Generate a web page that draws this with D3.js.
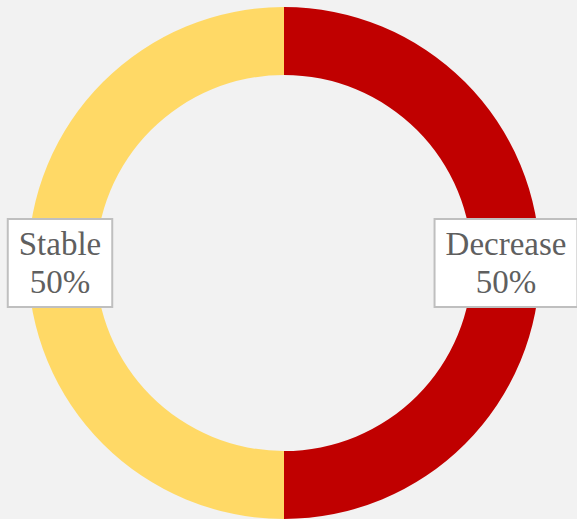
<!DOCTYPE html>
<html><head><meta charset="utf-8">
<script src="https://cdn.jsdelivr.net/npm/d3@7"></script>
<style>html,body{margin:0;padding:0;background:#F2F2F2;}svg{display:block;}</style>
</head><body>
<svg id="c" width="577" height="519"></svg>
<script>
const categories = ["Decrease", "Stable"];
const values = [50, 50];
const percentLabels = ["50%", "50%"];
const colors = ["#C00000", "#FFD966"];

const svg = d3.select("#c");
const cx = 284, cy = 263, rOuter = 256, rInner = 188;
const g = svg.append("g").attr("transform", `translate(${cx},${cy})`);
const pie = d3.pie().sort(null).value(d => d)(values);
const arc = d3.arc().innerRadius(rInner).outerRadius(rOuter);
const labelArc = d3.arc().innerRadius((rInner+rOuter)/2).outerRadius((rInner+rOuter)/2);

g.selectAll("path").data(pie).enter().append("path")
  .attr("d", arc).attr("fill", (d,i) => colors[i]);

const fs = 33;
pie.forEach((d,i) => {
  let [x,y] = labelArc.centroid(d);
  x += (x < 0 ? -2 : 0);
  const lg = g.append("g").attr("transform", `translate(${x},${y})`);
  const rect = lg.append("rect");
  const t = lg.append("text").attr("text-anchor","middle")
    .attr("font-family","'Liberation Serif', 'Times New Roman', serif")
    .attr("font-size", fs).attr("fill","#5f5f5f");
  t.append("tspan").attr("x",0).attr("y",-8).text(categories[i]);
  t.append("tspan").attr("x",0).attr("y",30).text(percentLabels[i]);
  const bb = t.node().getBBox();
  const w = bb.width + 22, h = 88;
  rect.attr("x",-w/2).attr("y",-h/2).attr("width",w).attr("height",h)
    .attr("fill","#ffffff").attr("stroke","#BFBFBF").attr("stroke-width",2);
});
</script>
</body></html>
